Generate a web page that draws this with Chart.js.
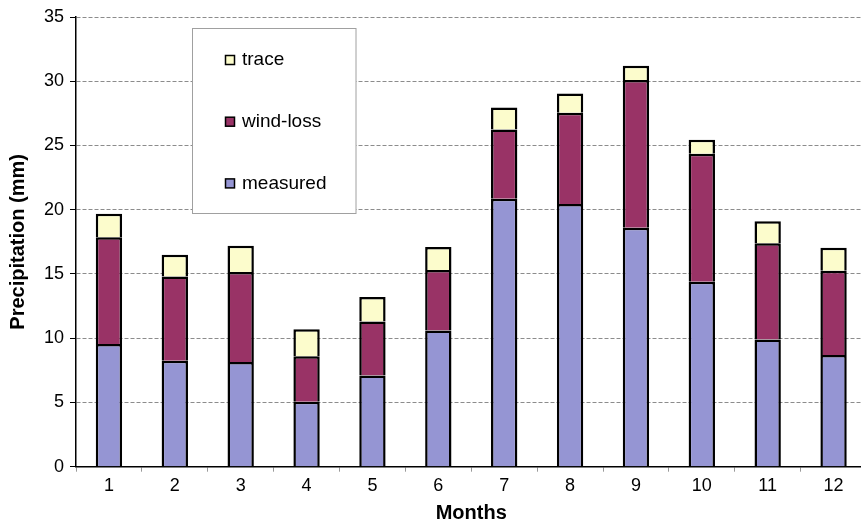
<!DOCTYPE html>
<html>
<head>
<meta charset="utf-8">
<script src="https://cdn.jsdelivr.net/npm/chart.js@4/dist/chart.umd.min.js"></script>
<style>
  html, body { margin: 0; padding: 0; background: #fff; overflow: hidden; }
  /* the plot runs a little past the right edge of the window, like the original */
  #wrap { position: absolute; left: 0; top: 0; width: 870px; height: 525px; }
</style>
</head>
<body>
<div id="wrap"><canvas id="chart"></canvas></div>
<script>
  // monthly precipitation (mm), stacked
  var months = ['1', '2', '3', '4', '5', '6', '7', '8', '9', '10', '11', '12'];
  var measured = [9.55, 8.25, 8.15, 5.05, 7.1, 10.6, 20.85, 20.45, 18.6, 14.4, 9.9, 8.7];
  var windLoss = [8.3, 6.55, 7.0, 3.55, 4.2, 4.7, 5.4, 7.1, 11.5, 9.95, 7.5, 6.55];
  var trace = [1.83, 1.7, 2.05, 2.1, 1.9, 1.8, 1.7, 1.5, 1.1, 1.1, 1.7, 1.8];

  Chart.defaults.font.family = 'Arial, "Liberation Sans", sans-serif';
  Chart.defaults.color = '#000';

  // legend box drawn inside the plot, top to bottom: trace, wind-loss, measured
  var boxLegend = {
    id: 'boxLegend',
    afterDraw: function(chart) {
      var ctx = chart.ctx;
      ctx.save();
      ctx.fillStyle = '#fff';
      ctx.fillRect(192.5, 28.5, 163.5, 185);
      ctx.strokeStyle = '#a0a0a0';
      ctx.lineWidth = 1;
      ctx.strokeRect(192.5, 28.5, 163.5, 185);
      ctx.font = '19px Arial, "Liberation Sans", sans-serif';
      ctx.textBaseline = 'middle';
      [2, 1, 0].forEach(function(di, i) {
        var ds = chart.data.datasets[di];
        var cy = 60 + i * 61.7;
        ctx.fillStyle = ds.backgroundColor;
        ctx.fillRect(225.5, cy - 4.5, 9, 9);
        ctx.strokeStyle = '#000';
        ctx.lineWidth = 1.5;
        ctx.strokeRect(225.5, cy - 4.5, 9, 9);
        ctx.fillStyle = '#000';
        ctx.fillText(ds.label, 242, cy);
      });
      ctx.restore();
    }
  };

  function barSet(label, data, color) {
    return {
      label: label,
      data: data,
      backgroundColor: color,
      borderColor: '#000',
      borderWidth: 2.5,
      barPercentage: 0.4,
      categoryPercentage: 1.0
    };
  }

  new Chart(document.getElementById('chart'), {
    type: 'bar',
    data: {
      labels: months,
      datasets: [
        barSet('measured', measured, '#9595d3'),
        barSet('wind-loss', windLoss, '#993366'),
        barSet('trace', trace, '#fcfccc')
      ]
    },
    options: {
      responsive: true,
      maintainAspectRatio: false,
      animation: false,
      layout: { padding: { left: 0, top: 17, right: 3.5, bottom: 0 } },
      plugins: {
        legend: { display: false },
        tooltip: { enabled: false }
      },
      scales: {
        x: {
          stacked: true,
          grid: { drawOnChartArea: false, drawTicks: true, tickLength: 5, tickColor: '#999' },
          border: { color: '#000', width: 1.5 },
          ticks: { font: { size: 18 }, padding: 4, maxRotation: 0 },
          title: { display: true, text: 'Months', font: { size: 20, weight: 'bold' }, padding: { top: 0, bottom: 0 } },
          afterFit: function(scale) { scale.height = 58.3; }
        },
        y: {
          stacked: true,
          min: 0,
          max: 35,
          ticks: { stepSize: 5, font: { size: 18 }, padding: 6 },
          grid: {
            color: function(c) { return c.tick && c.tick.value === 0 ? 'rgba(0,0,0,0)' : '#8c8c8c'; },
            tickColor: '#000',
            tickLength: 6
          },
          border: { color: '#000', width: 1.5, dash: [4, 2] },
          title: { display: true, text: 'Precipitation (mm)', font: { size: 20, weight: 'bold' }, padding: { top: 6, bottom: 0 } },
          afterFit: function(scale) { scale.width = 76; }
        }
      }
    },
    plugins: [boxLegend]
  });
</script>
</body>
</html>
